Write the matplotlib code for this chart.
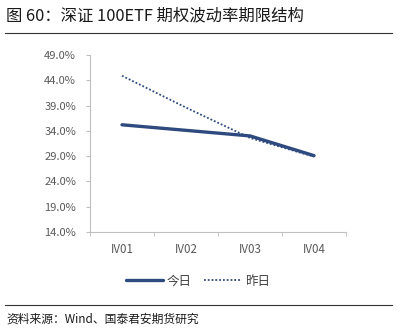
import matplotlib
matplotlib.use("Agg")
import matplotlib.pyplot as plt
import numpy as np

plt.rcParams['font.family'] = ['Noto Sans CJK SC', 'DejaVu Sans']

categories = ['IV01', 'IV02', 'IV03', 'IV04']
today = [35.2, 34.1, 33.0, 29.1]
yesterday = [44.9, 38.6, 32.6, 28.9]
yticks = [14, 19, 24, 29, 34, 39, 44, 49]

line_color = '#2E4A7F'
grey = '#595959'

fig = plt.figure(figsize=(3.97, 3.29), dpi=100)
W, H = 397, 329
ax = fig.add_axes([90 / W, 1 - 232 / H, (346 - 90) / W, (232 - 55) / H])

x = np.arange(len(categories))
ax.plot(x, today, color=line_color, lw=2.4, solid_capstyle='round', label='今日', zorder=3)
ax.plot(x, yesterday, color=line_color, lw=1.3, ls=(0, (1, 1.1)), label='昨日', zorder=2)

ax.set_xlim(-0.5, len(categories) - 0.5)
ax.set_ylim(14, 49)
ax.set_yticks(yticks)
ax.set_yticklabels([f'{v:.1f}%' for v in yticks], fontsize=8, color=grey)
ax.set_xticks(x)
ax.set_xticklabels(categories, fontsize=8.3, color=grey)
ax.set_xticks(np.arange(len(categories) + 1) - 0.5, minor=True)
ax.tick_params(axis='x', which='major', length=0, pad=8)
ax.tick_params(axis='x', which='minor', length=3, color='#BFBFBF')
ax.tick_params(axis='y', length=3, color='#BFBFBF', pad=7)
for s in ['top', 'right']:
    ax.spines[s].set_visible(False)
for s in ['left', 'bottom']:
    ax.spines[s].set_color('#BFBFBF')
    ax.spines[s].set_linewidth(0.8)

leg = fig.legend(loc='center', bbox_to_anchor=(198 / W, 1 - 281 / H), ncol=2,
                 frameon=False, fontsize=9, handlelength=3.0, handletextpad=0.3,
                 columnspacing=1.0)
for t in leg.get_texts():
    t.set_color('#404040')

fig.text(6 / W, 1 - 16 / H, '图 60：深证 100ETF 期权波动率期限结构', fontsize=11.8,
         va='center', ha='left', color='#1a1a1a')
fig.add_artist(plt.Line2D([5 / W, 392 / W], [1 - 33 / H] * 2, color='#333333', lw=0.8))
fig.add_artist(plt.Line2D([5 / W, 392 / W], [1 - 305 / H] * 2, color='#333333', lw=0.8))
fig.text(6 / W, 1 - 319 / H, '资料来源：Wind、国泰君安期货研究', fontsize=8.5,
         va='center', ha='left', color='#1a1a1a')

fig.savefig('out.png', dpi=100)
